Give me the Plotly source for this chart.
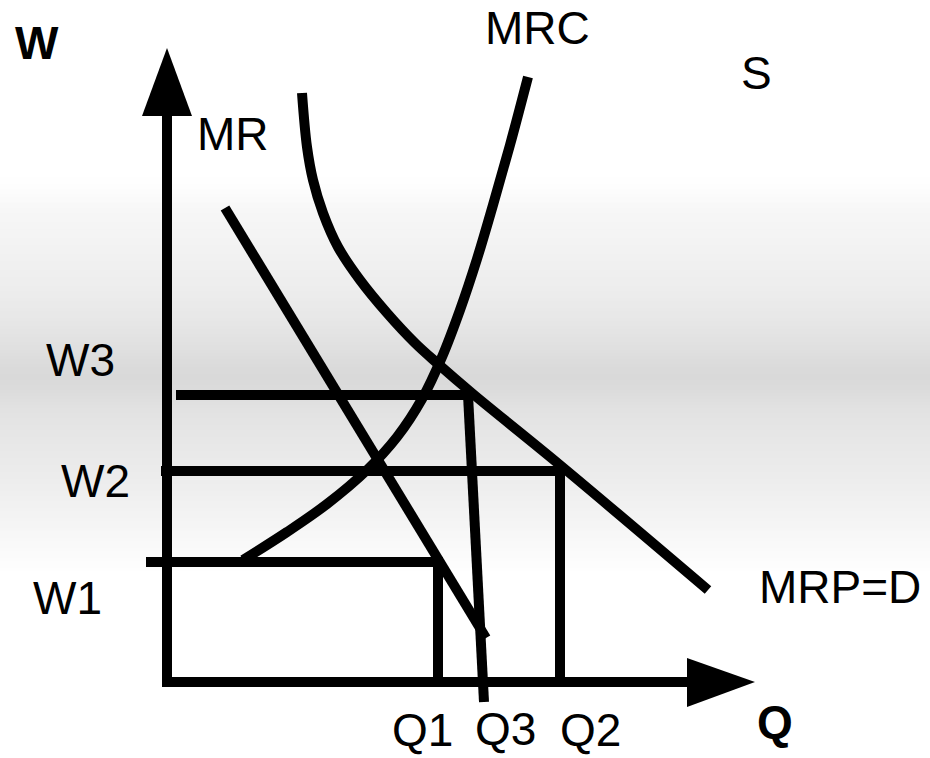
import plotly.graph_objects as go
import numpy as np

# ---------------- data (diagram units: origin at the axes corner) ----------------
wage_names = ["W1", "W2", "W3"]
wage_levels = [120, 211, 287]
wage_line_start = [-21, -6, 9]
wage_line_end = [276, 398, 303]

qty_names = ["Q1", "Q2"]
qty_levels = [271, 393]
qty_tops = [120, 211]

# near-vertical line under W3 (Q3)
q3_x = [301, 317]
q3_y = [287, -20]

# MR (straight)
mr_x = [58, 319]
mr_y = [474, 44]

# MRC curve
mrc_x = [76, 120, 160, 200, 230, 255, 275, 293, 310, 326, 343, 361]
mrc_y = [122, 150, 178, 212, 245, 283, 325, 372, 423, 477, 537, 605]

# MRP = D curve
mrp_x = [135, 140, 146, 156, 171, 193, 220, 248, 270, 306, 393, 541]
mrp_y = [589, 535, 502, 469, 435, 402, 369, 339, 319, 288, 217, 92]

# axes
yaxis_x = [0, 0]
yaxis_y = [-5, 568]
yarrow_x = [-25, 25, 0]
yarrow_y = [566, 566, 634]
xaxis_x = [-5, 522]
xaxis_y = [0, 0]
xarrow_x = [520, 520, 588]
xarrow_y = [24, -25, 0]

labels = ["W", "MR", "MRC", "S", "W3", "W2", "W1", "MRP=D", "Q1", "Q3", "Q2", "Q"]
label_bold = [True, False, False, False, False, False, False, False, False, False, False, True]

# ---------------- layout / styles ----------------
W, H = 930, 758
OX, OY = 167, 682  # origin pixel position
LW = 10
BLACK = "#000000"
FONT = "Liberation Sans, Arial, sans-serif"
FS = 46
label_pos = [(-130, 639), (66, 548), (370, 654), (589, 609), (-87, 322), (-72, 201),
             (-100, 84), (673, 95), (255, -48), (338, -47), (423, -48), (608, -40)]

fig = go.Figure()

def line(x, y, shape="linear"):
    fig.add_trace(go.Scatter(x=x, y=y, mode="lines",
                             line=dict(color=BLACK, width=LW, shape=shape, smoothing=1.0),
                             hoverinfo="skip"))

def tri(x, y):
    fig.add_trace(go.Scatter(x=x + [x[0]], y=y + [y[0]], mode="lines", fill="toself",
                             fillcolor=BLACK, line=dict(color=BLACK, width=0),
                             hoverinfo="skip"))

# axes
line(yaxis_x, yaxis_y)
tri(yarrow_x, yarrow_y)
line(xaxis_x, xaxis_y)
tri(xarrow_x, xarrow_y)

# wage lines
for s, e, w in zip(wage_line_start, wage_line_end, wage_levels):
    line([s, e], [w, w])
# quantity verticals
for q, t in zip(qty_levels, qty_tops):
    line([q, q], [t, -5])
line(q3_x, q3_y)
line(mr_x, mr_y)
line(mrc_x, mrc_y, "spline")
line(mrp_x, mrp_y, "spline")

# labels
anns = []
for txt, b, (x, y) in zip(labels, label_bold, label_pos):
    anns.append(dict(x=x, y=y, xref="x", yref="y", showarrow=False,
                     text=f"<b>{txt}</b>" if b else txt,
                     font=dict(family=FONT, size=FS, color=BLACK),
                     xanchor="center", yanchor="middle", borderpad=0))

# background gradient bands
stops_py = [175, 192, 210, 250, 290, 320, 345, 365, 378, 392, 410, 440, 470, 500, 530, 555, 575]
stops_g = [255, 252, 247, 242, 237, 231, 225, 219, 217, 220, 226, 231, 235, 240, 246, 251, 255]
shapes = []
step = 2
for py in range(174, 578, step):
    g = int(round(np.interp(py + step / 2, stops_py, stops_g)))
    shapes.append(dict(type="rect", xref="paper", yref="paper", x0=0, x1=1,
                       y0=1 - (py + step) / H, y1=1 - py / H + 0.0005,
                       fillcolor=f"rgb({g},{g},{g})", line=dict(width=0), layer="below"))

fig.update_layout(
    width=W, height=H, margin=dict(l=0, r=0, t=0, b=0),
    paper_bgcolor="white", plot_bgcolor="rgba(0,0,0,0)",
    showlegend=False,
    xaxis=dict(range=[-OX, W - OX], visible=False, fixedrange=True),
    yaxis=dict(range=[OY - H, OY], visible=False, fixedrange=True),
    annotations=anns, shapes=shapes,
)

fig.write_html("out.html",
               config={"displayModeBar": False, "staticPlot": True},
               post_script="document.body.style.margin='0px';document.body.style.padding='0px';"
                           "document.body.style.overflow='hidden';")
